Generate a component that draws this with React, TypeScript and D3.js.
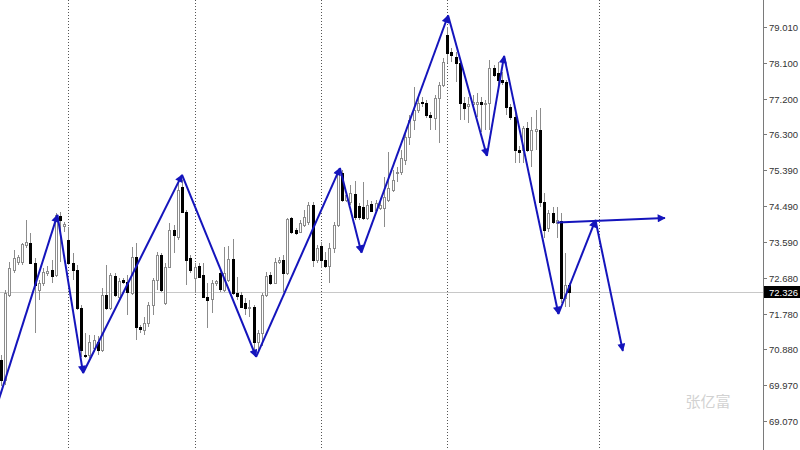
import React from "react";
import * as d3 from "d3";

const W = 800;
const H = 450;

// OHLC candles (H4-like)
const opens = [70.61,70.10,72.25,72.88,73.08,73.08,73.51,73.56,73.06,72.38,72.55,72.80,72.88,72.75,74.24,73.99,73.64,73.06,72.88,71.92,70.74,70.74,70.91,71.06,70.86,72.25,71.92,72.73,72.20,72.63,72.58,72.30,73.21,71.44,71.37,71.54,72.00,72.63,73.26,72.05,72.96,73.89,73.71,74.97,74.34,73.18,72.68,72.98,72.75,72.20,72.15,72.55,72.80,72.38,72.63,73.16,72.30,72.25,72.05,71.92,71.95,71.06,71.29,72.25,72.75,72.55,73.08,73.13,72.80,74.19,73.89,73.84,74.02,74.09,74.52,73.13,73.48,73.13,72.98,73.43,74.02,75.33,74.65,74.60,74.80,74.49,74.47,74.19,74.55,74.39,74.44,74.44,74.65,74.90,75.33,75.35,75.66,76.23,76.66,76.92,77.12,77.09,76.79,76.71,77.22,77.55,78.81,78.38,78.25,78.10,77.09,77.02,77.07,77.07,77.12,77.07,77.09,77.98,77.85,77.67,77.62,76.99,76.74,75.91,75.91,76.46,75.91,76.39,76.41,74.60,73.94,74.32,74.07,74.12,72.17,72.50];
const highs = [70.74,72.38,73.08,73.38,73.26,73.56,74.14,73.81,73.18,72.63,72.93,72.98,73.13,74.32,74.34,74.09,73.96,73.31,73.01,72.00,71.29,71.24,71.24,71.21,72.43,73.01,72.80,72.80,72.68,72.68,72.75,73.46,73.56,71.49,71.69,72.07,72.68,73.33,73.31,73.06,74.06,74.02,75.07,75.15,74.39,73.26,73.06,73.06,73.06,72.55,72.63,72.63,72.88,73.46,73.48,73.66,72.70,72.32,72.17,72.12,72.00,71.37,72.30,72.83,72.83,73.18,73.21,73.26,74.19,74.22,73.94,74.14,74.39,74.60,74.60,73.51,73.59,73.33,73.56,74.09,75.40,75.40,74.85,75.02,75.12,74.57,75.10,74.65,74.62,74.65,74.60,75.23,75.86,75.40,75.48,75.91,76.34,76.79,77.50,77.22,77.24,77.17,76.87,77.29,77.62,78.23,79.01,78.48,78.38,78.13,77.24,77.24,77.29,77.34,77.24,77.17,78.18,78.05,78.13,77.87,77.67,77.07,76.84,76.01,76.51,76.61,76.74,76.92,76.97,74.82,74.39,74.47,74.47,74.32,73.31,72.55];
const lows = [69.95,69.98,72.20,72.80,73.01,73.01,73.43,73.03,71.29,72.12,72.48,72.73,72.55,72.70,73.08,73.84,73.01,72.63,71.87,70.68,70.66,70.66,70.81,70.74,70.81,71.87,71.87,72.20,72.12,72.53,71.74,72.25,71.11,71.29,71.24,71.44,71.74,72.38,72.32,72.00,72.93,73.31,73.64,74.32,72.50,72.80,72.30,72.68,72.17,71.42,71.80,72.48,72.32,72.32,72.58,72.25,72.12,71.92,71.74,71.69,70.81,70.79,70.96,72.20,72.50,72.53,73.03,72.32,72.75,73.79,73.76,73.81,73.96,74.02,72.96,73.06,72.93,72.93,72.55,73.31,73.96,74.60,74.60,74.52,74.14,74.14,74.14,74.14,74.34,74.34,74.39,73.96,74.60,74.85,75.10,75.28,75.53,76.03,76.41,76.84,76.99,76.71,76.41,76.41,76.08,77.50,78.10,78.13,77.62,76.66,76.66,76.59,76.92,76.74,76.36,76.41,76.41,77.75,77.55,77.55,76.79,76.66,75.58,75.58,75.58,75.86,75.48,75.91,74.47,73.69,73.84,74.04,73.69,72.05,71.95,71.95];
const closes = [70.10,72.30,72.93,73.18,73.21,73.54,73.59,73.06,72.50,72.55,72.83,72.85,72.73,74.27,74.14,74.04,73.06,72.88,71.92,70.86,70.71,71.06,71.11,70.86,72.25,71.92,72.75,72.25,72.60,72.58,72.32,73.21,71.44,71.39,71.54,72.00,72.63,73.26,72.38,72.96,73.89,73.76,74.90,74.34,73.13,72.88,72.96,72.70,72.20,72.12,72.55,72.60,72.40,72.80,73.16,72.30,72.22,71.95,71.92,71.95,71.06,71.29,72.25,72.73,72.55,73.08,73.13,72.80,74.17,73.84,73.81,74.06,74.22,74.52,73.13,73.43,73.13,72.98,73.43,74.02,75.33,74.65,74.77,74.82,74.22,74.22,74.19,74.52,74.37,74.57,74.52,74.72,74.95,75.15,75.35,75.71,76.23,76.66,76.92,77.09,77.09,76.79,76.74,77.22,77.55,78.13,78.35,78.30,78.10,77.09,76.97,77.07,77.12,77.12,77.07,77.09,77.98,77.80,77.67,77.62,76.99,76.74,75.91,75.86,76.46,75.91,76.41,76.44,74.60,73.89,74.32,74.09,74.14,72.17,72.50,72.326];

// Zigzag (arrowed trend lines): bar position and price of each vertex
const zigBar = [-0.7, 13.4, 19.5, 43, 60.6, 80.5, 85.6, 106.2, 115.4, 119.5, 132.4, 141.2, 147.7];
const zigPrice = [69.55, 74.27, 70.28, 75.28, 70.69, 75.45, 73.32, 79.30, 75.76, 78.28, 71.77, 74.14, 70.84];

// Near-horizontal arrowed line
const flatBar = [132.1, 157.7];
const flatPrice = [74.08, 74.19];

// Period separators (bar positions)
const separators = [16, 46, 76, 106, 142];

// Price axis tick labels
const priceTicks = ["79.010", "78.100", "77.200", "76.300", "75.390", "74.490", "73.590", "72.680", "71.780", "70.880", "69.970", "69.070"];
const currentPrice = 72.326;

const BLUE = "#1414bc";

export default function App() {
  const axisX = 763;
  const x = d3.scaleLinear().domain([0, 100]).range([1, 422]);
  const y = d3.scaleLinear().domain([68.339, 79.691]).range([H, 0]);

  const candles = opens.map((o, i) => ({ o, h: highs[i], l: lows[i], c: closes[i], i }));
  const segs = zigBar.slice(1).map((b, k) => ({
    x1: x(zigBar[k]), y1: y(zigPrice[k]), x2: x(b), y2: y(zigPrice[k + 1]),
  }));

  const lbl = (v: number) => v.toFixed(3);

  return (
    <div style={{ position: "fixed", left: 0, top: 0, width: W, height: H, background: "#fff" }}>
      <svg width={W} height={H} style={{ display: "block" }}>
        <defs>
          <marker id="arr" viewBox="0 0 10 10" refX="9" refY="5" markerWidth="10" markerHeight="8"
            markerUnits="userSpaceOnUse" orient="auto">
            <path d="M0,0 L10,5 L0,10 z" fill={BLUE} />
          </marker>
        </defs>
        <rect x={0} y={0} width={W} height={H} fill="#fff" />
        <clipPath id="plot"><rect x={0} y={0} width={axisX} height={H} /></clipPath>

        {/* separators */}
        {separators.map((s, k) => (
          <line key={k} x1={Math.round(x(s)) + 0.5} x2={Math.round(x(s)) + 0.5} y1={0} y2={H}
            stroke="#555" strokeWidth={1} strokeDasharray="1,2" />
        ))}

        {/* current price line */}
        <line x1={0} x2={axisX} y1={Math.round(y(currentPrice)) + 0.5} y2={Math.round(y(currentPrice)) + 0.5}
          stroke="#c8c8c8" strokeWidth={1} />

        {/* watermark */}
        <text x={708} y={407} textAnchor="middle" fontSize={15}
          fontFamily="'Noto Sans CJK SC', sans-serif" fill="#d2d2d2">张亿富</text>

        {/* candles */}
        <g clipPath="url(#plot)" shapeRendering="crispEdges">
          {candles.map((d) => {
            const cx = Math.round(x(d.i));
            const up = d.c >= d.o;
            const top = Math.round(y(Math.max(d.o, d.c)));
            const bot = Math.round(y(Math.min(d.o, d.c)));
            return (
              <g key={d.i}>
                <line x1={cx + 0.5} x2={cx + 0.5} y1={Math.round(y(d.h))} y2={Math.round(y(d.l))}
                  stroke="#8c8c8c" strokeWidth={1} />
                <rect x={cx - 0.5} y={top + 0.5} width={2} height={Math.max(1, bot - top)}
                  fill={up ? "#fff" : "#000"} stroke={up ? "#8c8c8c" : "#000"} strokeWidth={1} />
              </g>
            );
          })}
        </g>

        {/* zigzag arrows */}
        <g clipPath="url(#plot)">
          {segs.map((s, k) => (
            <line key={k} x1={s.x1} y1={s.y1} x2={s.x2} y2={s.y2}
              stroke={BLUE} strokeWidth={2} markerEnd="url(#arr)" />
          ))}
          <line x1={x(flatBar[0])} y1={y(flatPrice[0])} x2={x(flatBar[1])} y2={y(flatPrice[1])}
            stroke={BLUE} strokeWidth={2} markerEnd="url(#arr)" />
        </g>

        {/* price axis */}
        <line x1={axisX + 0.5} x2={axisX + 0.5} y1={0} y2={H} stroke="#7a7a7a" strokeWidth={1} />
        {priceTicks.map((t) => {
          const ty = Math.round(y(+t)) + 0.5;
          return (
            <g key={t}>
              <line x1={axisX} x2={axisX + 4} y1={ty} y2={ty} stroke="#7a7a7a" />
              <text x={axisX + 6} y={ty + 3.5} fontSize={9.5}
                fontFamily="'Liberation Sans', Arial, sans-serif" fill="#333">{t}</text>
            </g>
          );
        })}
        {(() => {
          const cy = Math.round(y(currentPrice));
          return (
            <g>
              <rect x={axisX + 1} y={cy - 6} width={W - axisX - 1} height={12} fill="#000" />
              <text x={axisX + 6} y={cy + 3.5} fontSize={9.5}
                fontFamily="'Liberation Sans', Arial, sans-serif" fill="#fff">{lbl(currentPrice)}</text>
            </g>
          );
        })()}
      </svg>
    </div>
  );
}
